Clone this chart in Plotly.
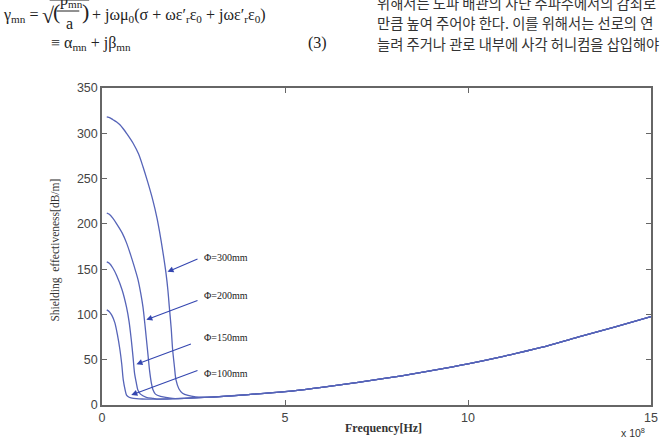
import plotly.graph_objects as go

# Frequency in units of 1e8 Hz, shielding effectiveness in dB/m
f_100 = [0.13, 0.2, 0.27, 0.35, 0.42, 0.49, 0.54, 0.58, 0.63, 0.67, 0.74, 0.82, 0.94, 1.1]
v_100 = [105, 103, 99, 91, 78, 61, 45, 28, 17, 11, 8.5, 7.6, 7.0, 6.6]

f_150 = [0.13, 0.2, 0.3, 0.40, 0.55, 0.67, 0.74, 0.80, 0.85, 0.89, 0.94, 0.98, 1.05, 1.21, 1.4]
v_150 = [158, 156.5, 151, 143, 127, 108, 92, 72, 52, 35, 24, 16.5, 12, 8.5, 7.2]

f_200 = [0.13, 0.2, 0.3, 0.40, 0.55, 0.67, 0.78, 0.88, 0.98, 1.06, 1.12, 1.17, 1.21, 1.26, 1.30, 1.35, 1.39, 1.46, 1.6, 1.8]
v_200 = [212, 210.5, 206, 200, 190, 179, 166, 153, 139, 123, 108, 90, 74, 54, 38, 24, 17, 12, 9.5, 8.0]

f_300 = [0.13, 0.22, 0.3, 0.4, 0.49, 0.58, 0.67, 0.85, 1.0, 1.12, 1.25, 1.39, 1.5, 1.57, 1.66, 1.75, 1.80, 1.84, 1.89, 1.93, 1.98, 2.02, 2.1, 2.2, 2.35, 2.56, 2.8]
v_300 = [318, 317, 315, 312.5, 309.5, 305, 300, 289, 277, 263, 246, 226, 207, 192, 170, 145, 127, 108, 85, 61, 42, 28, 18, 13, 10.5, 9, 8.5]

base_f = [1.2, 1.5, 2.0, 2.5, 3.0, 4.0, 5.0, 6.0, 7.0, 8.0, 9.0, 10.0, 11.0, 12.0, 13.0, 14.0, 15.0]
base_v = [6.5, 6.5, 7.0, 7.8, 8.8, 11.5, 14.7, 19.5, 25.0, 31.0, 38.0, 45.5, 54.0, 63.5, 75.0, 86.0, 97.5]

labels = ["Φ=300mm", "Φ=200mm", "Φ=150mm", "Φ=100mm"]
label_f = [2.73, 2.73, 2.73, 2.73]
label_v = [163, 121, 75, 35]
head_f = [1.79, 1.21, 0.94, 0.80]
head_v = [147, 94, 45, 11]
tail_f = [2.65, 2.65, 2.47, 2.65]
tail_v = [162, 116, 68, 38.6]

x_ticks = [0, 5, 10, 15]
y_ticks = [0, 50, 100, 150, 200, 250, 300, 350]

LINE = "#5664b8"
ARROW = "#3446b0"

fig = go.Figure()
for fx, vy in [(f_100, v_100), (f_150, v_150), (f_200, v_200), (f_300, v_300)]:
    xs = list(fx) + [b for b in base_f if b > fx[-1]]
    ys = list(vy) + [bv for b, bv in zip(base_f, base_v) if b > fx[-1]]
    fig.add_trace(go.Scatter(x=xs, y=ys, mode="lines",
                             line=dict(color=LINE, width=1.3, shape="spline", smoothing=0.8),
                             showlegend=False, hoverinfo="skip"))

anns = []
for t, lf, lv, hf, hv, tf, tv in zip(labels, label_f, label_v, head_f, head_v, tail_f, tail_v):
    anns.append(dict(x=hf, y=hv, ax=tf, ay=tv, xref="x", yref="y", axref="x", ayref="y",
                     text="", showarrow=True, arrowhead=2, arrowsize=1.1, arrowwidth=1.1,
                     arrowcolor=ARROW))
    anns.append(dict(x=lf, y=lv, xref="x", yref="y", text=t, showarrow=False,
                     xanchor="left", yanchor="middle",
                     font=dict(family="Liberation Serif", size=10, color="#222")))

def px(x):
    return (x - 102) / 556.0

def py(y):
    return (405 - y) / 317.0

serif = dict(family="Liberation Serif", size=16, color="#222")
big = dict(family="Liberation Serif", size=22, color="#222")
header = [
    ("γ<sub>mn</sub> =", 0, 15, serif),
    ("√", 39, 15, big),
    ("(", 50, 12, big),
    ("p<sub>mn</sub>", 57, 1, serif),
    ("a", 64, 24, serif),
    (")", 80, 12, big),
    ("+ jωμ<sub>0</sub>(σ + ωε′<sub>r</sub>ε<sub>0</sub> + jωε′<sub>r</sub>ε<sub>0</sub>)", 90, 15, serif),
    ("≡ α<sub>mn</sub> + jβ<sub>mn</sub>", 48, 43, serif),
    ("(3)", 309, 43, serif),
]
for t, x, y, fnt in header:
    anns.append(dict(x=px(x), y=py(y), xref="paper", yref="paper", text=t, showarrow=False,
                     xanchor="left", yanchor="middle", font=fnt))
fig.add_shape(type="line", xref="paper", yref="paper", x0=px(56), x1=px(79), y0=py(11), y1=py(11),
              line=dict(color="#222", width=1))
fig.add_shape(type="line", xref="paper", yref="paper", x0=px(49), x1=px(89), y0=py(0), y1=py(0),
              line=dict(color="#222", width=1))

kor = dict(family="Noto Sans CJK KR", size=14.3, color="#333")
korean = [
    ("위해서는 도파 배관의 차단 주파수에서의 감쇠로", 378, 3),
    ("만큼 높여 주어야 한다. 이를 위해서는 선로의 연", 378, 23),
    ("늘려 주거나 관로 내부에 사각 허니컴을 삽입해야", 378, 43),
]
for t, x, y in korean:
    anns.append(dict(x=px(x), y=py(y), xref="paper", yref="paper", text=t, showarrow=False,
                     xanchor="left", yanchor="middle", font=kor))

anns.append(dict(x=px(55), y=py(250), xref="paper", yref="paper", text="Shielding  effectiveness[dB/m]",
                 textangle=-90, showarrow=False, xanchor="center", yanchor="middle",
                 font=dict(family="Liberation Serif", size=11.5, color="#333")))
anns.append(dict(x=px(387), y=py(428), xref="paper", yref="paper", text="<b>Frequency[Hz]</b>",
                 showarrow=False, xanchor="center", yanchor="middle",
                 font=dict(family="Liberation Serif", size=12, color="#333")))
anns.append(dict(x=px(640), y=py(432), xref="paper", yref="paper", text="x 10<sup>8</sup>",
                 showarrow=False, xanchor="center", yanchor="middle",
                 font=dict(family="Liberation Sans", size=10.5, color="#333")))

axis_common = dict(showgrid=False, zeroline=False, showline=True, linecolor="#666", linewidth=1.5,
                   mirror="ticks", ticks="inside", ticklen=5, tickcolor="#666",
                   tickfont=dict(family="Liberation Sans", size=12.5, color="#444"))

fig.update_layout(
    width=667, height=437,
    margin=dict(l=102, r=9, t=88, b=32),
    paper_bgcolor="white", plot_bgcolor="white",
    xaxis=dict(range=[0, 15], tickvals=x_ticks, ticktext=[str(v) for v in x_ticks], **axis_common),
    yaxis=dict(range=[0, 350], tickvals=y_ticks, ticktext=[str(v) for v in y_ticks], **axis_common),
    annotations=anns,
)

fig.write_html("out.html")
